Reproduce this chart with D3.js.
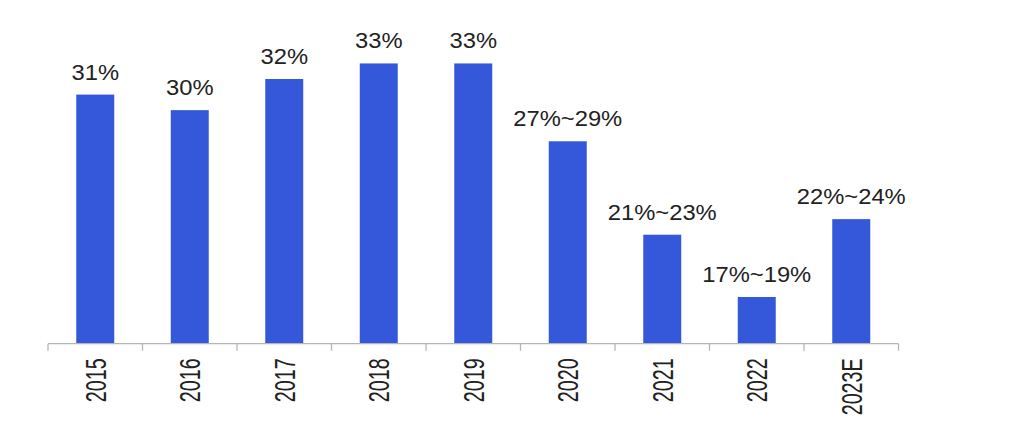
<!DOCTYPE html>
<html>
<head>
<meta charset="utf-8">
<script src="https://cdn.jsdelivr.net/npm/d3@7"></script>
<style>
html,body{margin:0;padding:0;background:#fff;}
svg{display:block;}
text{font-family:"Liberation Sans",Arial,sans-serif;fill:#222;}
</style>
</head>
<body>
<svg id="chart" width="1024" height="447"></svg>
<script>
const categories = ["2015","2016","2017","2018","2019","2020","2021","2022","2023E"];
const values = [31, 30, 32, 33, 33, 28, 22, 18, 23];
const labels = ["31%","30%","32%","33%","33%","27%~29%","21%~23%","17%~19%","22%~24%"];
const yDomain = [15, 35];

const svg = d3.select("#chart");
const axisY = 343.7;
const x = d3.scaleBand().domain(categories).range([48, 898.5]).paddingInner(0.598).paddingOuter(0.299);
const y = d3.scaleLinear().domain(yDomain).range([axisY, 32.3]);
const step = x.step();
const barColor = "#3458d9";

// bars
svg.append("g").selectAll("rect").data(categories).join("rect")
  .attr("x", d => x(d))
  .attr("y", (d,i) => y(values[i]))
  .attr("width", x.bandwidth())
  .attr("height", (d,i) => axisY - y(values[i]))
  .attr("fill", barColor);

// value labels
svg.append("g").selectAll("text").data(categories).join("text")
  .attr("transform", (d,i) => `translate(${x(d) + x.bandwidth()/2},${y(values[i]) - 15}) scale(1.08,1)`)
  .attr("text-anchor", "middle")
  .style("font-size", "22px")
  .text((d,i) => labels[i]);

// axis
const axisG = svg.append("g");
axisG.append("line")
  .attr("x1", 48).attr("x2", 898.5)
  .attr("y1", axisY).attr("y2", axisY)
  .attr("stroke", "#b5b5b5").attr("stroke-width", 1.3);
const bounds = categories.map(d => x(d) - (step - x.bandwidth())/2);
bounds.push(x(categories[categories.length-1]) + x.bandwidth() + (step - x.bandwidth())/2);
axisG.selectAll("line.tick").data(bounds).join("line")
  .attr("class","tick")
  .attr("x1", d => d).attr("x2", d => d)
  .attr("y1", axisY).attr("y2", axisY + 7)
  .attr("stroke", "#b5b5b5").attr("stroke-width", 1.3);

// tick labels (rotated)
axisG.selectAll("text").data(categories).join("text")
  .attr("transform", d => `translate(${x(d) + x.bandwidth()/2 + 10.5},${axisY + 14.6}) rotate(-90) scale(0.68,1)`)
  .attr("text-anchor", "end")
  .style("font-size", "29px")
  .text(d => d);
</script>
</body>
</html>
